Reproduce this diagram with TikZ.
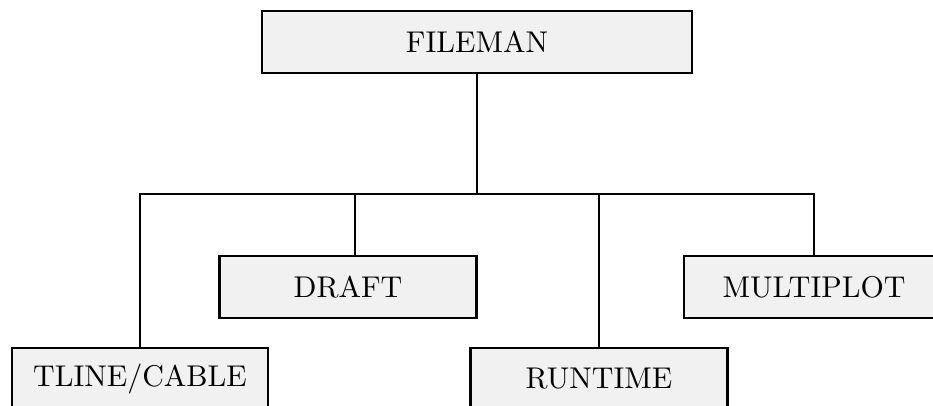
\documentclass[tikz,border=0pt]{standalone}
\usepackage{fontspec}
\setmainfont{lmroman10-regular.otf}
\begin{document}
\begin{tikzpicture}[x=1pt,y=-1pt,
  box/.style={draw=black, line width=2.6pt, fill={rgb,255:red,241;green,241;blue,241},
    minimum height=62pt, inner sep=0pt, font=\fontsize{30}{36}\selectfont},
  link/.style={line width=2.6pt}]
\useasboundingbox (0,0) rectangle (933,405);
\clip (0,0) rectangle (933,405);
\node[box, minimum width=430pt] (fileman) at (477,42) {FILEMAN};
\node[box, minimum width=257pt] (draft) at (348,287) {DRAFT};
\node[box, minimum width=260pt] (multi) at (814,287) {MULTIPLOT};
\node[box, minimum width=256pt] (tline) at (140,379) {TLINE/CABLE};
\node[box, minimum width=257pt] (runtime) at (599,379) {RUNTIME};
\coordinate (bus) at (477,194);
\coordinate (draftin) at ([xshift=7pt]draft.north);
\draw[link] (fileman.south) -- (bus);
\draw[link] (tline.north) -- (tline.north |- bus) -- (multi.north |- bus) -- (multi.north);
\draw[link] (draftin) -- (draftin |- bus);
\draw[link] (runtime.north) -- (runtime.north |- bus);
\end{tikzpicture}
\end{document}
